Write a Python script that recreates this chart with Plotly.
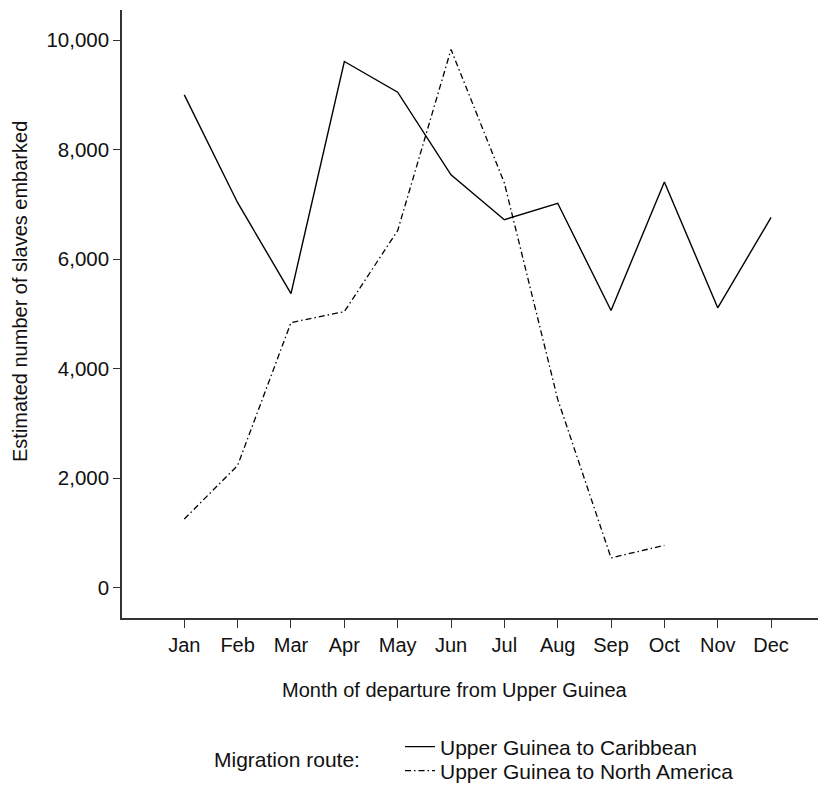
import plotly.graph_objects as go

months = ["Jan", "Feb", "Mar", "Apr", "May", "Jun", "Jul", "Aug", "Sep", "Oct", "Nov", "Dec"]
month_num = list(range(1, 13))
caribbean = [9000, 7030, 5370, 9610, 9050, 7540, 6720, 7020, 5060, 7410, 5110, 6760]
north_america = [1250, 2230, 4840, 5040, 6520, 9830, 7390, 3440, 540, 770, None, None]
y_ticks = [0, 2000, 4000, 6000, 8000, 10000]
y_ticktext = ["0", "2,000", "4,000", "6,000", "8,000", "10,000"]

FONT = "Liberation Sans, Arial, Helvetica, sans-serif"
AX = "#333333"

# page body has an 8px default margin; compensate so the plot lands where the reference is
W, H, OFF = 826, 797, 8
L, T = 122 - OFF, 10 - OFF
PH = 608  # plot height in px (10..618)
B = (H - OFF) - T - PH


def py(pix):
    """reference pixel row -> paper y"""
    return (618 - pix) / PH


def px(pix):
    """reference pixel column -> paper x"""
    return (pix - 122) / 704


fig = go.Figure()
fig.add_trace(go.Scatter(x=month_num, y=caribbean, mode="lines",
                         name="Upper Guinea to Caribbean", legend="legend",
                         line=dict(color="black", width=1.4)))
fig.add_trace(go.Scatter(x=month_num, y=north_america, mode="lines",
                         name="Upper Guinea to North America", legend="legend2",
                         line=dict(color="black", width=1.3, dash="6px,3px,1.5px,3px")))

leg_common = dict(xanchor="left", yanchor="middle", font=dict(size=21),
                  bgcolor="rgba(0,0,0,0)", itemwidth=30, tracegroupgap=0)

fig.update_layout(
    width=W - OFF, height=H - OFF,
    margin=dict(l=L, r=0, t=T, b=B),
    paper_bgcolor="white", plot_bgcolor="white",
    font=dict(family=FONT, size=20, color="#111111"),
    showlegend=True,
    legend=dict(x=px(400), y=py(747), **leg_common),
    legend2=dict(x=px(400), y=py(771), **leg_common),
    xaxis=dict(range=[-0.168, 13.03], tickvals=month_num, ticktext=months,
               showgrid=False, zeroline=False, showline=True, linecolor=AX, linewidth=1.5,
               ticks="outside", ticklen=8, tickwidth=1.3, tickcolor=AX,
               tickfont=dict(size=20)),
    yaxis=dict(range=[-558, 10551], tickvals=y_ticks, ticktext=y_ticktext,
               showgrid=False, zeroline=False, showline=True, linecolor=AX, linewidth=1.5,
               ticks="outside", ticklen=7, tickwidth=1.3, tickcolor=AX,
               tickfont=dict(size=20.5)),
    annotations=[
        dict(text="Estimated number of slaves embarked", xref="paper", yref="paper",
             x=px(20), y=py(292), xanchor="center", yanchor="middle", textangle=-90,
             showarrow=False, font=dict(size=20)),
        dict(text="Month of departure from Upper Guinea", xref="paper", yref="paper",
             x=px(455), y=py(690), xanchor="center", yanchor="middle",
             showarrow=False, font=dict(size=20)),
        dict(text="Migration route:", xref="paper", yref="paper",
             x=px(212), y=py(759), xanchor="left", yanchor="middle",
             showarrow=False, font=dict(size=21)),
    ],
)

fig.write_html("out.html")
